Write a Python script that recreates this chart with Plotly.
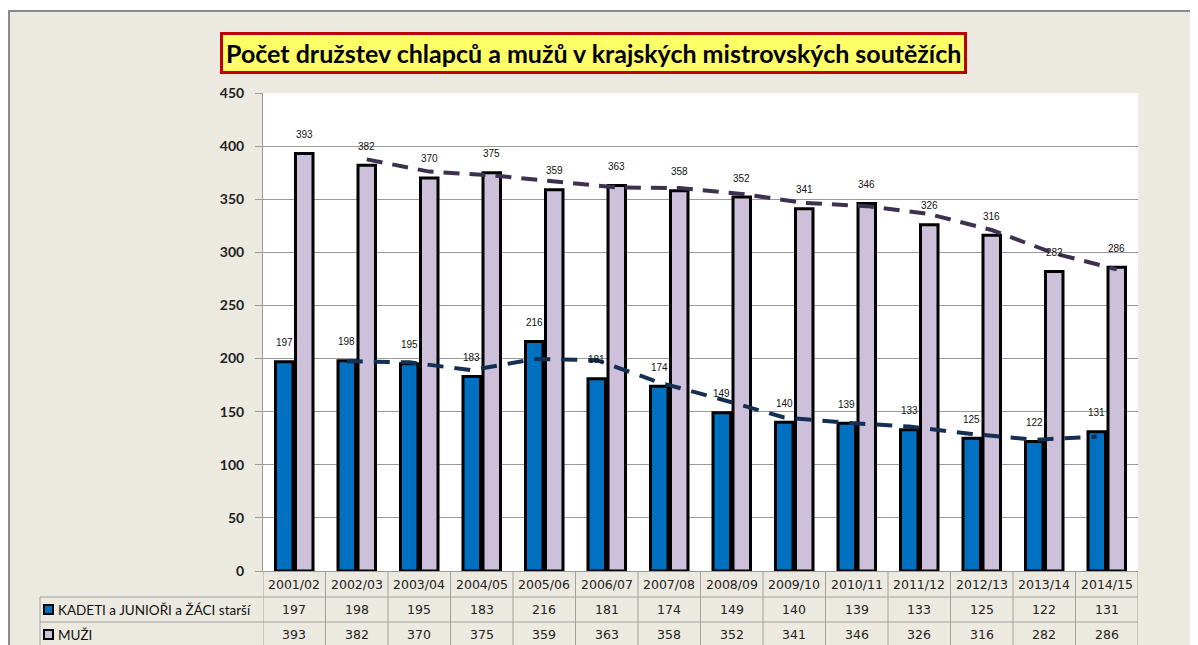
import plotly.graph_objects as go

seasons = ["2001/02", "2002/03", "2003/04", "2004/05", "2005/06", "2006/07", "2007/08",
           "2008/09", "2009/10", "2010/11", "2011/12", "2012/13", "2013/14", "2014/15"]
kadeti = [197, 198, 195, 183, 216, 181, 174, 149, 140, 139, 133, 125, 122, 131]
muzi = [393, 382, 370, 375, 359, 363, 358, 352, 341, 346, 326, 316, 282, 286]

# dashed trend lines (moving average) - they start at the 2nd season
kadeti_trend = [197.5, 196.5, 189, 199.5, 198.5, 177.5, 161.5, 144.5, 139.5, 136, 129, 123.5, 126.5]
muzi_trend = [387.5, 376, 372.5, 367, 361, 360.5, 355, 346.5, 343.5, 336, 321, 299, 284]

series_names = ["KADETI a JUNIOŘI a ŽÁCI starší", "MUŽI"]
title = "Počet družstev chlapců a mužů v krajských mistrovských soutěžích"

BLUE = "#0070C0"
LILAC = "#CCC0DA"
BEIGE = "#ECE9E0"
GRID = "#9A9A9A"

# page is 1198x645, the html body has an 8px margin
PAGE_W, PAGE_H = 1198, 645
OFF = 8
W, H = PAGE_W - OFF, PAGE_H - OFF
# plot area in page pixels
L, R, T, B = 263, 1138, 93, 571


def px(x):
    return (x - L) / (R - L)


def py(y):
    return (B - y) / (B - T)


idx = list(range(len(seasons)))
BAR_W = 0.28
OFF_BLUE, OFF_LILAC = -0.30, 0.02

fig = go.Figure()
fig.add_trace(go.Bar(x=idx, y=kadeti, name=series_names[0], width=BAR_W, offset=OFF_BLUE,
                     marker=dict(color=BLUE, line=dict(color="black", width=3))))
fig.add_trace(go.Bar(x=idx, y=muzi, name=series_names[1], width=BAR_W, offset=OFF_LILAC,
                     marker=dict(color=LILAC, line=dict(color="black", width=3))))

c_blue = OFF_BLUE + BAR_W / 2
c_lilac = OFF_LILAC + BAR_W / 2
fig.add_trace(go.Scatter(x=[i + c_blue for i in idx[1:]], y=kadeti_trend, mode="lines",
                         line=dict(color="#142F52", width=4, dash="16px,11px"), hoverinfo="skip"))
fig.add_trace(go.Scatter(x=[i + c_lilac for i in idx[1:]], y=muzi_trend, mode="lines",
                         line=dict(color="#3E3150", width=4, dash="16px,10px"), hoverinfo="skip"))

ann = []
# data labels
for i in idx:
    for val, c in ((kadeti[i], c_blue), (muzi[i], c_lilac)):
        ann.append(dict(x=i + c, y=val, xref="x", yref="y", text=str(val), showarrow=False,
                        yshift=19, font=dict(family="Liberation Sans", size=10, color="#111")))

# title box
ann.append(dict(x=px(593.5), y=py(53), xref="paper", yref="paper", text=title, showarrow=False,
                xanchor="center", yanchor="middle",
                font=dict(family="Lato", size=25, color="black", weight="bold"),
                bgcolor="#FFFF66", bordercolor="#C00000", borderwidth=3, borderpad=3))

# data table
tfont = dict(family="DejaVu Sans", size=12.5, color="#222")


def cell(x, y, text, xref="x", **kw):
    return dict(x=x, y=py(y), xref=xref, yref="paper", text=text, showarrow=False,
                yanchor="middle", **kw)


for i in idx:
    ann.append(cell(i, 584, seasons[i], xanchor="center", font=tfont))
    ann.append(cell(i, 609.5, str(kadeti[i]), xanchor="center", font=tfont))
    ann.append(cell(i, 634.5, str(muzi[i]), xanchor="center", font=tfont))
for name, yy in zip(series_names, (609.5, 634.5)):
    ann.append(cell(px(56), yy, name, xref="paper", xanchor="left",
                    font=dict(family="Lato", size=13.5, color="#111")))

shapes = []
# outer frame: white strip above, grey border line
shapes.append(dict(type="rect", xref="paper", yref="paper", x0=px(0), x1=px(PAGE_W + 20),
                   y0=py(11), y1=py(0), fillcolor="white", line=dict(width=0), layer="below"))
shapes.append(dict(type="line", xref="paper", yref="paper", x0=px(OFF), x1=px(PAGE_W + 20),
                   y0=py(11), y1=py(11), line=dict(color="#8A8A8A", width=2)))
shapes.append(dict(type="line", xref="paper", yref="paper", x0=px(OFF + 1), x1=px(OFF + 1),
                   y0=py(11), y1=py(PAGE_H + 20), line=dict(color="#8A8A8A", width=2)))

# table grid
tline = dict(color="#A0A0A0", width=1)
for k in range(len(seasons) + 1):
    shapes.append(dict(type="line", xref="x", yref="paper", x0=k - 0.5, x1=k - 0.5,
                       y0=py(571), y1=py(660), line=tline))
for yy in (597, 622):
    shapes.append(dict(type="line", xref="paper", yref="paper", x0=px(40), x1=px(R),
                       y0=py(yy), y1=py(yy), line=tline))
shapes.append(dict(type="line", xref="paper", yref="paper", x0=px(40), x1=px(40),
                   y0=py(597), y1=py(660), line=tline))

# legend keys
for col, yy in ((BLUE, 609.5), (LILAC, 634.5)):
    shapes.append(dict(type="rect", xref="paper", yref="paper", x0=px(44), x1=px(53),
                       y0=py(yy + 4.5), y1=py(yy - 4.5), fillcolor=col,
                       line=dict(color="black", width=2)))

fig.update_layout(
    width=W, height=H,
    margin=dict(l=L - OFF, r=PAGE_W - R, t=T - OFF, b=PAGE_H - B),
    paper_bgcolor=BEIGE, plot_bgcolor="white",
    barmode="overlay", showlegend=False,
    annotations=ann, shapes=shapes,
    xaxis=dict(range=[-0.5, len(seasons) - 0.5], showticklabels=False, showgrid=False,
               zeroline=False, showline=True, linecolor=GRID, linewidth=1, fixedrange=True),
    yaxis=dict(range=[0, 450], dtick=50, showgrid=True, gridcolor=GRID, gridwidth=1,
               zeroline=False, showline=True, linecolor=GRID, linewidth=1,
               ticks="outside", ticklen=7, tickcolor=GRID, ticklabelstandoff=8,
               tickfont=dict(family="Lato", size=14, color="#222", weight="bold")),
)

fig.write_html("out.html")
